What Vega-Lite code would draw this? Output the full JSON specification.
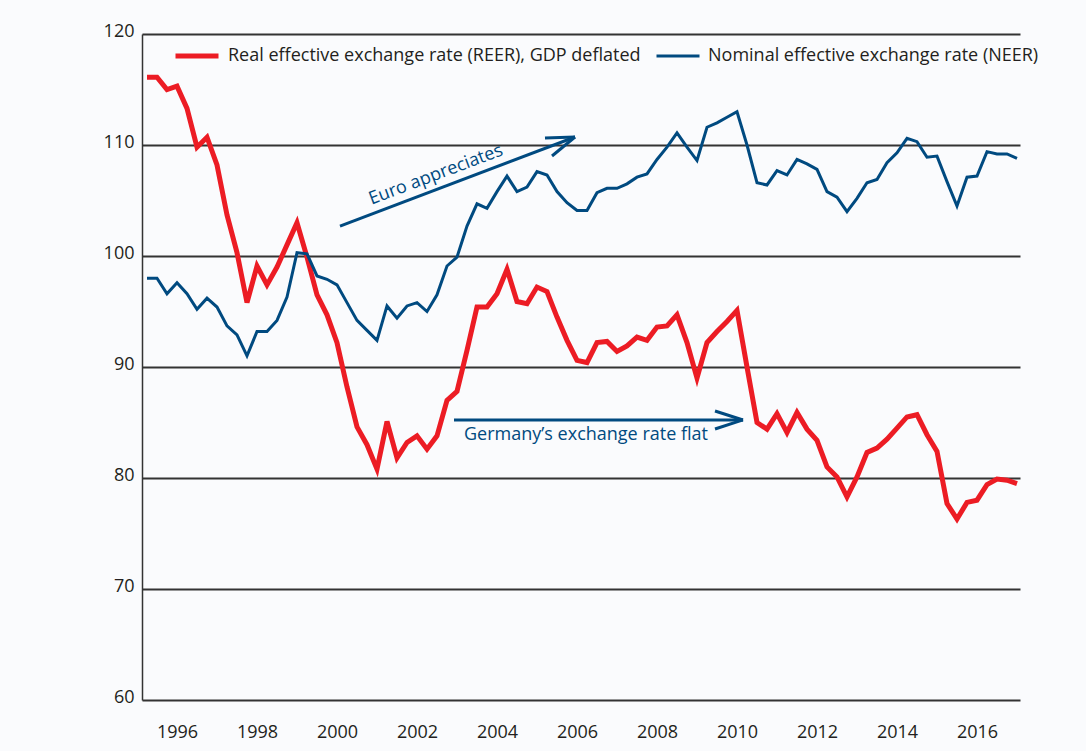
{
  "$schema": "https://vega.github.io/schema/vega-lite/v6.json",
  "width": 878,
  "height": 666,
  "autosize": "none",
  "padding": {"left": 142, "top": 34, "right": 66, "bottom": 51},
  "background": "#fafbfd",
  "config": {
    "view": {"stroke": null},
    "font": "Open Sans",
    "axis": {"labelFont": "Open Sans", "labelColor": "#231f20", "labelFontSize": 17}
  },
  "datasets": {
    "arrows": [
      {"x": 2000.075, "y": 102.7, "x2": 2005.95, "y2": 110.72},
      {"x": 2005.2, "y": 110.63, "x2": 2005.95, "y2": 110.72},
      {"x": 2005.375, "y": 109.01, "x2": 2005.95, "y2": 110.72},
      {"x": 2002.925, "y": 85.23, "x2": 2010.15, "y2": 85.23},
      {"x": 2009.45, "y": 86.04, "x2": 2010.15, "y2": 85.23},
      {"x": 2009.45, "y": 84.41, "x2": 2010.15, "y2": 85.23}
    ],
    "notes": [
      {"x": 2002.475, "y": 107.3, "label": "Euro appreciates", "angle": -20.7},
      {"x": 2006.225, "y": 83.87, "label": "Germany’s exchange rate flat", "angle": 0}
    ]
  },
  "layer": [
    {
      "data": {"values": [
        {"t":1995.25,"s":"REER","v":116.1},{"t":1995.5,"s":"REER","v":116.1},{"t":1995.75,"s":"REER","v":115.0},{"t":1996.0,"s":"REER","v":115.3},
        {"t":1996.25,"s":"REER","v":113.3},{"t":1996.5,"s":"REER","v":109.8},{"t":1996.75,"s":"REER","v":110.7},{"t":1997.0,"s":"REER","v":108.2},
        {"t":1997.25,"s":"REER","v":103.7},{"t":1997.5,"s":"REER","v":100.3},{"t":1997.75,"s":"REER","v":95.8},{"t":1998.0,"s":"REER","v":99.1},
        {"t":1998.25,"s":"REER","v":97.4},{"t":1998.5,"s":"REER","v":99.0},{"t":1998.75,"s":"REER","v":101.0},{"t":1999.0,"s":"REER","v":103.0},
        {"t":1999.25,"s":"REER","v":99.9},{"t":1999.5,"s":"REER","v":96.5},{"t":1999.75,"s":"REER","v":94.7},{"t":2000.0,"s":"REER","v":92.2},
        {"t":2000.25,"s":"REER","v":88.2},{"t":2000.5,"s":"REER","v":84.6},{"t":2000.75,"s":"REER","v":83.0},{"t":2001.0,"s":"REER","v":80.8},
        {"t":2001.25,"s":"REER","v":85.1},{"t":2001.5,"s":"REER","v":81.8},{"t":2001.75,"s":"REER","v":83.2},{"t":2002.0,"s":"REER","v":83.8},
        {"t":2002.25,"s":"REER","v":82.6},{"t":2002.5,"s":"REER","v":83.8},{"t":2002.75,"s":"REER","v":87.0},{"t":2003.0,"s":"REER","v":87.8},
        {"t":2003.25,"s":"REER","v":91.5},{"t":2003.5,"s":"REER","v":95.4},{"t":2003.75,"s":"REER","v":95.4},{"t":2004.0,"s":"REER","v":96.6},
        {"t":2004.25,"s":"REER","v":98.8},{"t":2004.5,"s":"REER","v":95.9},{"t":2004.75,"s":"REER","v":95.7},{"t":2005.0,"s":"REER","v":97.2},
        {"t":2005.25,"s":"REER","v":96.8},{"t":2005.5,"s":"REER","v":94.5},{"t":2005.75,"s":"REER","v":92.4},{"t":2006.0,"s":"REER","v":90.6},
        {"t":2006.25,"s":"REER","v":90.4},{"t":2006.5,"s":"REER","v":92.2},{"t":2006.75,"s":"REER","v":92.3},{"t":2007.0,"s":"REER","v":91.4},
        {"t":2007.25,"s":"REER","v":91.9},{"t":2007.5,"s":"REER","v":92.7},{"t":2007.75,"s":"REER","v":92.4},{"t":2008.0,"s":"REER","v":93.6},
        {"t":2008.25,"s":"REER","v":93.7},{"t":2008.5,"s":"REER","v":94.7},{"t":2008.75,"s":"REER","v":92.2},{"t":2009.0,"s":"REER","v":89.0},
        {"t":2009.25,"s":"REER","v":92.2},{"t":2009.5,"s":"REER","v":93.2},{"t":2009.75,"s":"REER","v":94.1},{"t":2010.0,"s":"REER","v":95.1},
        {"t":2010.25,"s":"REER","v":90.0},{"t":2010.5,"s":"REER","v":85.0},{"t":2010.75,"s":"REER","v":84.4},{"t":2011.0,"s":"REER","v":85.8},
        {"t":2011.25,"s":"REER","v":84.1},{"t":2011.5,"s":"REER","v":85.9},{"t":2011.75,"s":"REER","v":84.4},{"t":2012.0,"s":"REER","v":83.4},
        {"t":2012.25,"s":"REER","v":81.0},{"t":2012.5,"s":"REER","v":80.1},{"t":2012.75,"s":"REER","v":78.3},{"t":2013.0,"s":"REER","v":80.1},
        {"t":2013.25,"s":"REER","v":82.3},{"t":2013.5,"s":"REER","v":82.7},{"t":2013.75,"s":"REER","v":83.5},{"t":2014.0,"s":"REER","v":84.5},
        {"t":2014.25,"s":"REER","v":85.5},{"t":2014.5,"s":"REER","v":85.7},{"t":2014.75,"s":"REER","v":83.9},{"t":2015.0,"s":"REER","v":82.4},
        {"t":2015.25,"s":"REER","v":77.7},{"t":2015.5,"s":"REER","v":76.3},{"t":2015.75,"s":"REER","v":77.8},{"t":2016.0,"s":"REER","v":78.0},
        {"t":2016.25,"s":"REER","v":79.4},{"t":2016.5,"s":"REER","v":79.9},{"t":2016.75,"s":"REER","v":79.8},{"t":2017.0,"s":"REER","v":79.5},
        {"t":1995.25,"s":"NEER","v":98.0},{"t":1995.5,"s":"NEER","v":98.0},{"t":1995.75,"s":"NEER","v":96.6},{"t":1996.0,"s":"NEER","v":97.6},
        {"t":1996.25,"s":"NEER","v":96.6},{"t":1996.5,"s":"NEER","v":95.2},{"t":1996.75,"s":"NEER","v":96.2},{"t":1997.0,"s":"NEER","v":95.4},
        {"t":1997.25,"s":"NEER","v":93.7},{"t":1997.5,"s":"NEER","v":92.9},{"t":1997.75,"s":"NEER","v":91.0},{"t":1998.0,"s":"NEER","v":93.2},
        {"t":1998.25,"s":"NEER","v":93.2},{"t":1998.5,"s":"NEER","v":94.2},{"t":1998.75,"s":"NEER","v":96.3},{"t":1999.0,"s":"NEER","v":100.3},
        {"t":1999.25,"s":"NEER","v":100.2},{"t":1999.5,"s":"NEER","v":98.2},{"t":1999.75,"s":"NEER","v":97.9},{"t":2000.0,"s":"NEER","v":97.4},
        {"t":2000.25,"s":"NEER","v":95.8},{"t":2000.5,"s":"NEER","v":94.2},{"t":2000.75,"s":"NEER","v":93.3},{"t":2001.0,"s":"NEER","v":92.4},
        {"t":2001.25,"s":"NEER","v":95.5},{"t":2001.5,"s":"NEER","v":94.4},{"t":2001.75,"s":"NEER","v":95.5},{"t":2002.0,"s":"NEER","v":95.8},
        {"t":2002.25,"s":"NEER","v":95.0},{"t":2002.5,"s":"NEER","v":96.5},{"t":2002.75,"s":"NEER","v":99.1},{"t":2003.0,"s":"NEER","v":99.9},
        {"t":2003.25,"s":"NEER","v":102.7},{"t":2003.5,"s":"NEER","v":104.7},{"t":2003.75,"s":"NEER","v":104.3},{"t":2004.0,"s":"NEER","v":105.8},
        {"t":2004.25,"s":"NEER","v":107.2},{"t":2004.5,"s":"NEER","v":105.8},{"t":2004.75,"s":"NEER","v":106.2},{"t":2005.0,"s":"NEER","v":107.6},
        {"t":2005.25,"s":"NEER","v":107.3},{"t":2005.5,"s":"NEER","v":105.8},{"t":2005.75,"s":"NEER","v":104.8},{"t":2006.0,"s":"NEER","v":104.1},
        {"t":2006.25,"s":"NEER","v":104.1},{"t":2006.5,"s":"NEER","v":105.7},{"t":2006.75,"s":"NEER","v":106.1},{"t":2007.0,"s":"NEER","v":106.1},
        {"t":2007.25,"s":"NEER","v":106.5},{"t":2007.5,"s":"NEER","v":107.1},{"t":2007.75,"s":"NEER","v":107.4},{"t":2008.0,"s":"NEER","v":108.7},
        {"t":2008.25,"s":"NEER","v":109.8},{"t":2008.5,"s":"NEER","v":111.1},{"t":2008.75,"s":"NEER","v":109.8},{"t":2009.0,"s":"NEER","v":108.6},
        {"t":2009.25,"s":"NEER","v":111.6},{"t":2009.5,"s":"NEER","v":112.0},{"t":2009.75,"s":"NEER","v":112.5},{"t":2010.0,"s":"NEER","v":113.0},
        {"t":2010.25,"s":"NEER","v":110.0},{"t":2010.5,"s":"NEER","v":106.6},{"t":2010.75,"s":"NEER","v":106.4},{"t":2011.0,"s":"NEER","v":107.7},
        {"t":2011.25,"s":"NEER","v":107.3},{"t":2011.5,"s":"NEER","v":108.7},{"t":2011.75,"s":"NEER","v":108.3},{"t":2012.0,"s":"NEER","v":107.8},
        {"t":2012.25,"s":"NEER","v":105.8},{"t":2012.5,"s":"NEER","v":105.3},{"t":2012.75,"s":"NEER","v":104.0},{"t":2013.0,"s":"NEER","v":105.2},
        {"t":2013.25,"s":"NEER","v":106.6},{"t":2013.5,"s":"NEER","v":106.9},{"t":2013.75,"s":"NEER","v":108.4},{"t":2014.0,"s":"NEER","v":109.3},
        {"t":2014.25,"s":"NEER","v":110.6},{"t":2014.5,"s":"NEER","v":110.3},{"t":2014.75,"s":"NEER","v":108.9},{"t":2015.0,"s":"NEER","v":109.0},
        {"t":2015.25,"s":"NEER","v":106.7},{"t":2015.5,"s":"NEER","v":104.5},{"t":2015.75,"s":"NEER","v":107.1},{"t":2016.0,"s":"NEER","v":107.2},
        {"t":2016.25,"s":"NEER","v":109.4},{"t":2016.5,"s":"NEER","v":109.2},{"t":2016.75,"s":"NEER","v":109.2},{"t":2017.0,"s":"NEER","v":108.8}
      ]},
      "mark": {"type": "line", "strokeJoin": "miter", "strokeCap": "butt"},
      "encoding": {
        "x": {
          "field": "t", "type": "quantitative",
          "scale": {"domain": [1995.125, 2017.075], "nice": false, "zero": false},
          "axis": {"title": null, "values": [1996, 1998, 2000, 2002, 2004, 2006, 2008, 2010, 2012, 2014, 2016], "format": "d", "grid": false, "domain": false, "ticks": false, "labelPadding": 23, "labelFontSize": 18}
        },
        "y": {
          "field": "v", "type": "quantitative",
          "scale": {"domain": [60, 120], "nice": false, "zero": false},
          "axis": {"title": null, "values": [60, 70, 80, 90, 100, 110, 120], "grid": true, "gridColor": "#333333", "gridWidth": 2, "gridOpacity": 1, "domain": true, "domainColor": "#333333", "domainWidth": 1.5, "ticks": false, "labelPadding": 8, "labelOffset": -3, "labelFontSize": 18}
        },
        "color": {
          "field": "s", "type": "nominal",
          "scale": {"domain": ["REER", "NEER"], "range": ["#ec1c24", "#004a80"]},
          "legend": {
            "title": null, "orient": "none", "legendX": 31, "legendY": -2, "direction": "horizontal",
            "symbolType": "stroke", "symbolSize": 1849, "symbolStrokeWidth": 5, "labelFontSize": 18, "labelFont": "Open Sans", "labelColor": "#231f20",
            "labelOffset": 7, "columnPadding": 9, "padding": 0, "labelLimit": 0,
            "labelExpr": "datum.value == 'REER' ? 'Real effective exchange rate (REER), GDP deflated' : 'Nominal effective exchange rate (NEER)'"
          }
        },
        "strokeWidth": {
          "field": "s", "type": "nominal",
          "scale": {"domain": ["REER", "NEER"], "range": [5, 3]},
          "legend": null
        }
      }
    },
    {
      "data": {"name": "arrows"},
      "mark": {"type": "rule", "color": "#004a80", "strokeWidth": 3},
      "encoding": {
        "x": {"field": "x", "type": "quantitative"},
        "y": {"field": "y", "type": "quantitative"},
        "x2": {"field": "x2"},
        "y2": {"field": "y2"}
      }
    },
    {
      "data": {"name": "notes"},
      "mark": {"type": "text", "color": "#004a80", "fontSize": 18, "font": "Open Sans", "align": "center", "baseline": "middle"},
      "encoding": {
        "x": {"field": "x", "type": "quantitative"},
        "y": {"field": "y", "type": "quantitative"},
        "text": {"field": "label"},
        "angle": {"field": "angle", "type": "quantitative", "scale": null}
      }
    }
  ]
}
